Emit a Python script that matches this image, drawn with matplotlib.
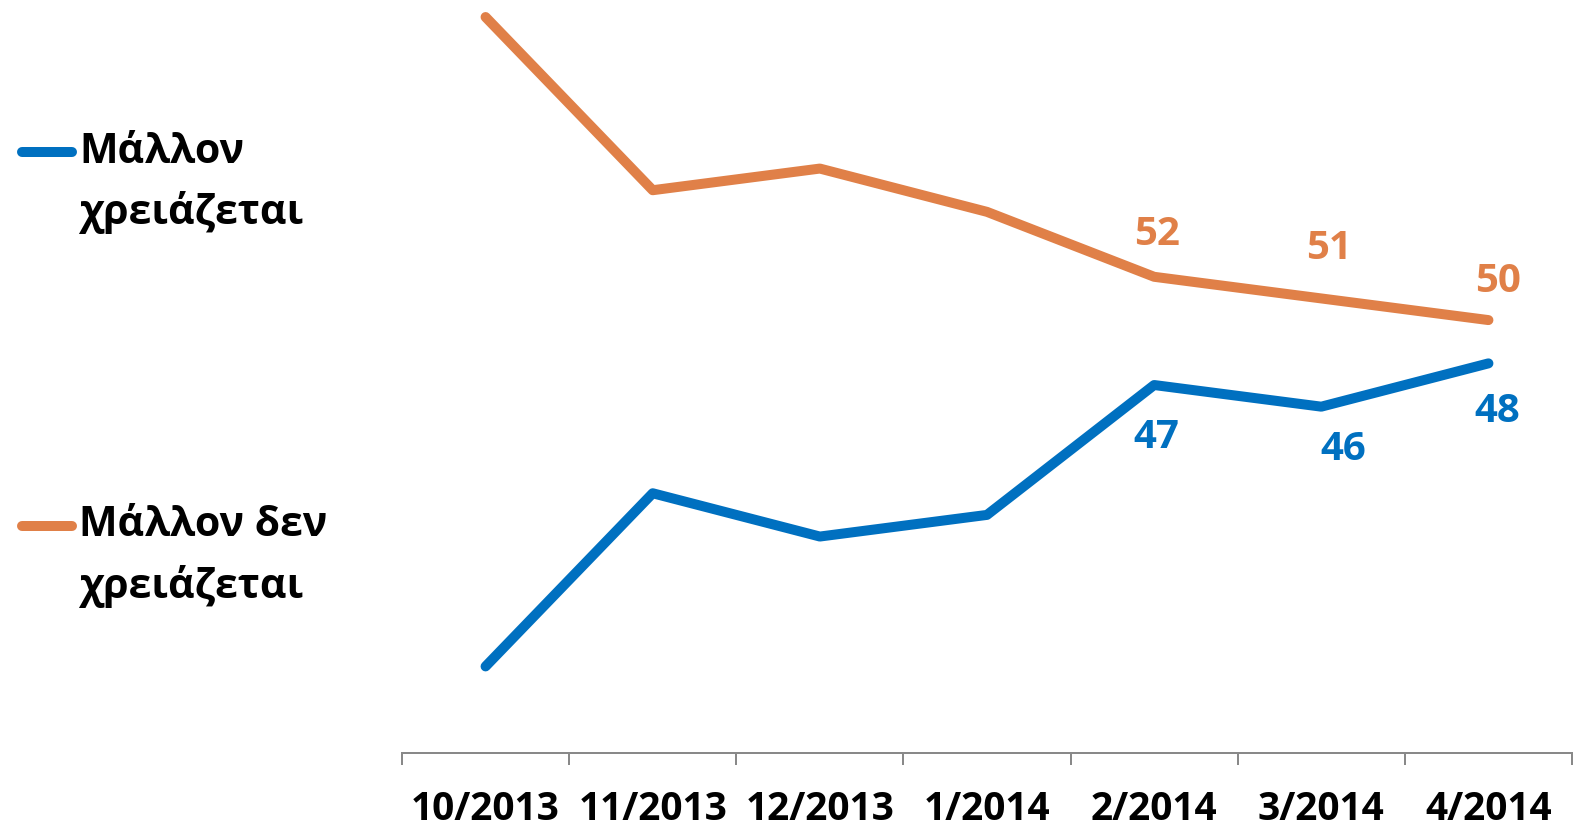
import matplotlib
matplotlib.use("Agg")
import matplotlib.pyplot as plt
from matplotlib.lines import Line2D
import numpy as np

plt.rcParams['font.family'] = ['Open Sans', 'DejaVu Sans']
plt.rcParams['font.weight'] = 'bold'

months = ['10/2013', '11/2013', '12/2013', '1/2014', '2/2014', '3/2014', '4/2014']
needed = [34, 42, 40, 41, 47, 46, 48]          # Μάλλον χρειάζεται
not_needed = [64, 56, 57, 55, 52, 51, 50]      # Μάλλον δεν χρειάζεται
labeled_idx = [4, 5, 6]

BLUE = '#0070C0'
ORANGE = '#E08048'
PX = 0.72  # points per pixel at dpi 100
LW = 10 * PX

fig = plt.figure(figsize=(15.78, 8.28), dpi=100)
ax = fig.add_axes([402 / 1578, 74 / 828, 1170 / 1578, 757.6 / 828])

x = np.arange(len(months))
ax.plot(x, needed, color=BLUE, lw=LW, solid_capstyle='round', solid_joinstyle='round', clip_on=False)
ax.plot(x, not_needed, color=ORANGE, lw=LW, solid_capstyle='round', solid_joinstyle='round', clip_on=False)

ax.set_xlim(-0.5, len(months) - 0.5)
ax.set_ylim(30, 65)

# data labels (pixel offsets from the point)
orange_off = [(3, 43.5), (8, 51), (10, 40)]
blue_off = [(2, -51), (22, -42), (9, -47)]
for k, i in enumerate(labeled_idx):
    dx, dy = orange_off[k]
    ax.annotate(str(not_needed[i]), (x[i], not_needed[i]), xytext=(dx * PX, dy * PX),
                textcoords='offset points', ha='center', va='center',
                color=ORANGE, fontsize=29, fontweight='bold')
    dx, dy = blue_off[k]
    ax.annotate(str(needed[i]), (x[i], needed[i]), xytext=(dx * PX, dy * PX),
                textcoords='offset points', ha='center', va='center',
                color=BLUE, fontsize=29, fontweight='bold')

for s in ['top', 'right', 'left']:
    ax.spines[s].set_visible(False)
ax.spines['bottom'].set_color('#898989')
ax.spines['bottom'].set_linewidth(2 * PX)
ax.set_yticks([])

ax.set_xticks(x)
ax.set_xticklabels(months, fontsize=28, fontweight='bold')
ax.tick_params(axis='x', which='major', length=0, pad=26)
ax.set_xticks(np.arange(-0.5, len(months)), minor=True)
ax.tick_params(axis='x', which='minor', length=12 * PX, width=2 * PX, color='#898989', direction='out')

# legend on the left
def legend_entry(y1_px, y2_px, color, text):
    yl = 1 - y1_px / 828
    yc = 1 - (y1_px + y2_px) / 2 / 828
    fig.add_artist(Line2D([22 / 1578, 72 / 1578], [yl, yl], color=color, lw=LW,
                          solid_capstyle='round', transform=fig.transFigure))
    fig.text(79 / 1578, yc, text, ha='left', va='center', fontsize=29.5,
             fontweight='bold', color='black', linespacing=1.55)

legend_entry(153, 213, BLUE, 'Μάλλον\nχρειάζεται')
legend_entry(527, 586, ORANGE, 'Μάλλον δεν\nχρειάζεται')

fig.savefig('out.png', dpi=100)
